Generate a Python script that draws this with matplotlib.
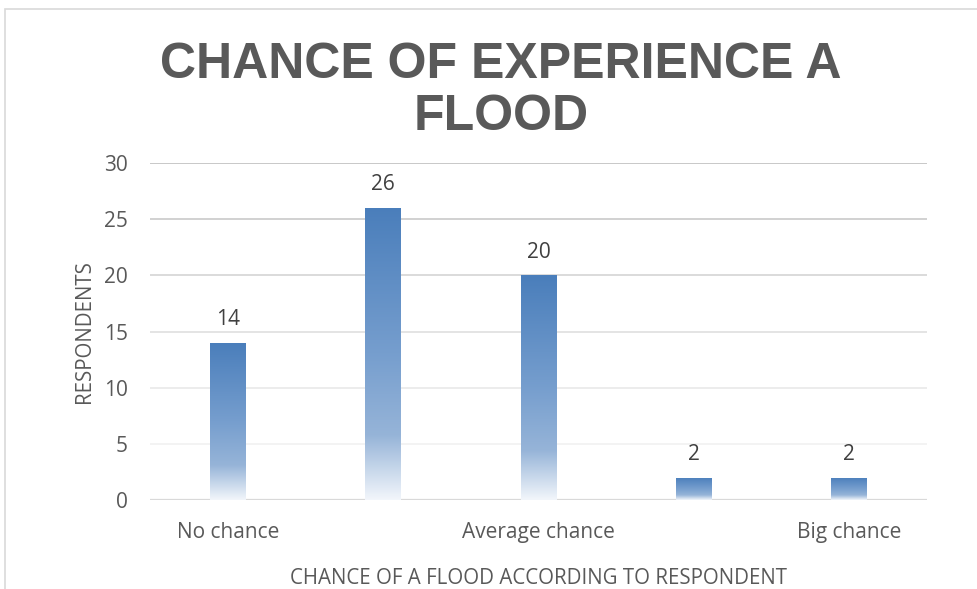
import matplotlib
matplotlib.use("Agg")
import matplotlib.pyplot as plt
import numpy as np
from matplotlib.colors import LinearSegmentedColormap
from matplotlib.patches import Rectangle

categories = ["No chance", "", "Average chance", "", "Big chance"]
values = [14, 26, 20, 2, 2]
yticks = [0, 5, 10, 15, 20, 25, 30]

title = "CHANCE OF EXPERIENCE A\nFLOOD"
xlabel = "CHANCE OF A FLOOD ACCORDING TO RESPONDENT"
ylabel = "RESPONDENTS"

W, H = 978, 589
fig = plt.figure(figsize=(W / 100, H / 100), dpi=100)
fig.patch.set_facecolor("white")

# outer chart border (cropped on right/bottom)
fig.add_artist(Rectangle((5 / W, -0.1), 1.2, 1 - 9 / H + 0.1, transform=fig.transFigure,
                         fill=False, edgecolor="#D9D9D9", linewidth=1.2))

ax = fig.add_axes([150 / W, 1 - 500 / H, (927 - 150) / W, (500 - 163) / H])
ax.set_xlim(-0.5, len(values) - 0.5)
ax.set_ylim(0, 30)
for s in ax.spines.values():
    s.set_visible(False)

grid_colors = ["#D9D9D9", "#F2F2F2", "#EAEAEA", "#E2E2E2", "#D8D8D8", "#CECECE", "#C4C4C4"]
for yv, c in zip(yticks, grid_colors):
    ax.axhline(yv, color=c, linewidth=1.6 if yv == 0 else 1.3, zorder=1)

cmap = LinearSegmentedColormap.from_list("bargrad", [
    (0.0, (242 / 255, 246 / 255, 251 / 255)),
    (0.22, (150 / 255, 180 / 255, 216 / 255)),
    (0.5, (118 / 255, 158 / 255, 206 / 255)),
    (1.0, (74 / 255, 126 / 255, 187 / 255)),
])
grad = np.linspace(0, 1, 256).reshape(-1, 1)

bar_w = 0.23
bars = ax.bar(range(len(values)), values, width=bar_w, color="none", edgecolor="none", zorder=2)
for b in bars:
    x0, w, h = b.get_x(), b.get_width(), b.get_height()
    im = ax.imshow(grad, cmap=cmap, aspect="auto", origin="lower",
                   extent=(x0, x0 + w, 0, h), zorder=2)
    im.set_clip_path(b)

for i, v in enumerate(values):
    ax.annotate(str(v), (i, v), xytext=(0, 9), textcoords="offset points",
                ha="center", va="bottom", fontsize=15, color="#404040", family="Open Sans")

ax.set_xticks(range(len(values)))
ax.set_xticklabels(categories, fontsize=15, color="#595959", family="Open Sans")
ax.set_yticks(yticks)
ax.set_yticklabels([str(t) for t in yticks], fontsize=15, color="#595959", family="Open Sans")
ax.tick_params(axis="both", length=0)
ax.tick_params(axis="x", pad=16)
ax.tick_params(axis="y", pad=16)

ax.set_xlabel(xlabel, fontsize=14.8, color="#595959", family="Open Sans", labelpad=18)
ax.set_ylabel(ylabel, fontsize=14.8, color="#595959", family="Open Sans", labelpad=6)

fig.text(501 / W, 1 - 91 / H, title, ha="center", va="center", fontsize=36,
         fontweight="bold", color="#595959", family="Liberation Sans", linespacing=1.18)

fig.savefig("out.png", dpi=100, facecolor="white")
